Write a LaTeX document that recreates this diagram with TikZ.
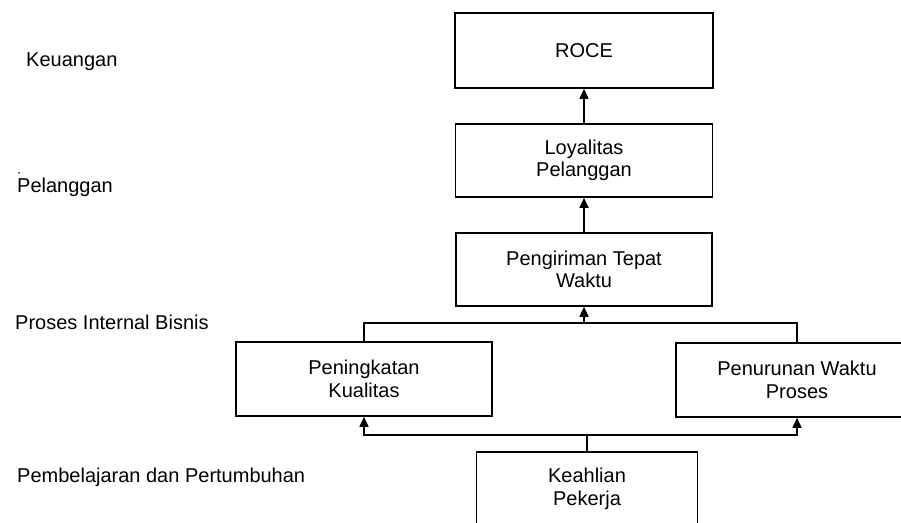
\documentclass[tikz,border=0pt]{standalone}
\usepackage{fontspec}
\setmainfont{Liberation Sans}
\usetikzlibrary{arrows.meta}
\tikzset{
  box/.style={draw, line width=1.6pt, inner sep=0pt, align=center, font=\fontsize{20}{22.5}\selectfont},
  lbl/.style={anchor=west, inner sep=0pt, font=\fontsize{20}{22.5}\selectfont},
  line/.style={line width=1.6pt},
  arr/.style={line width=1.6pt, -{Triangle[width=9pt,length=10pt]}}
}
\begin{document}
\begin{tikzpicture}[x=1pt,y=-1pt]
\useasboundingbox (0,0) rectangle (901,522);
\clip (0,0) rectangle (901,522);
\fill[white] (0,0) rectangle (901,522);
% left labels
\node[lbl] (keu) at (26,62) {Keuangan};
\node[lbl] (pel) at (17,187) {Pelanggan};
\node[lbl] (pib) at (15,322) {Proses Internal Bisnis};
\node[lbl] (pdp) at (17,477) {Pembelajaran dan Pertumbuhan};
\fill (19,173) circle (0.8);
% boxes
\node[box, minimum width=258pt, minimum height=75pt] (roce) at (584,50.5) {ROCE};
\node[box, minimum width=257pt, minimum height=73pt] (loy) at (584,160.5) {Loyalitas\\Pelanggan};
\node[box, minimum width=256pt, minimum height=73pt] (peng) at (584,269.5) {Pengiriman Tepat\\Waktu};
\node[box, minimum width=256pt, minimum height=74pt] (ning) at (364,379) {Peningkatan\\Kualitas};
\node[box, minimum width=242pt, minimum height=74pt] (turun) at (797,380) {Penurunan Waktu\\Proses};
\node[box, minimum width=221pt, minimum height=74pt] (keah) at (587,489) {Keahlian\\Pekerja};
% connectors
\draw[arr] (loy.north) -- (roce.south);
\draw[arr] (peng.north) -- (loy.south);
\coordinate (j1) at (584,323);
\draw[line] (ning.north) |- (j1) -| (turun.north);
\draw[arr] (j1) -- (peng.south);
\coordinate (j2) at (587,435);
\draw[line] (keah.north) -- (j2);
\draw[arr] (j2) -| (ning.south);
\draw[arr] (j2) -| (turun.south);
\end{tikzpicture}
\end{document}
